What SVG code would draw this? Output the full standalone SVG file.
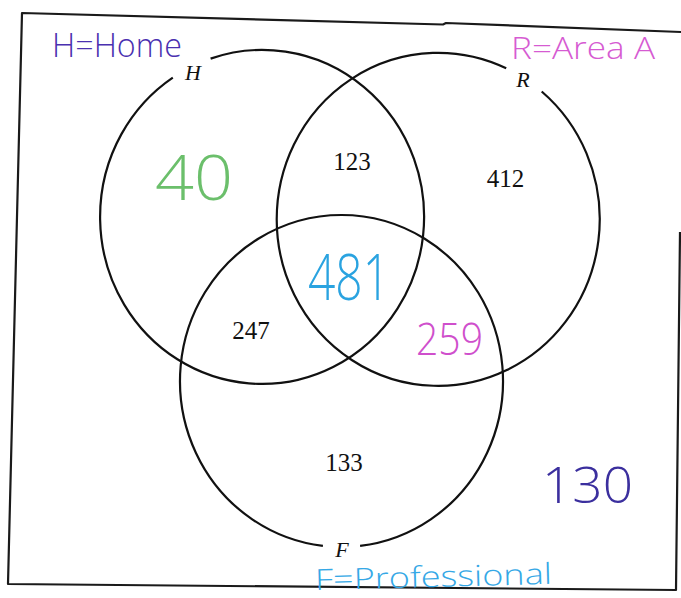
<svg xmlns="http://www.w3.org/2000/svg" width="681" height="598" viewBox="0 0 681 598">
<style>
.border{fill:none;stroke:#1a1a1a;stroke-width:2.2;stroke-linejoin:round}
.circ{fill:none;stroke:#111;stroke-width:2.2}
.lbl{font-family:"Liberation Serif",serif;font-style:italic;font-size:22px;fill:#111;text-anchor:middle}
.num{font-family:"Liberation Serif",serif;font-size:25px;fill:#111;text-anchor:middle}
.hw{font-family:"Open Sans","Liberation Sans",sans-serif;font-weight:300}
</style>
<rect width="681" height="598" fill="#fff"/>
<g id="frame">
<polyline class="border" points="681,32 446,23 443,24.5 22,13 8,584 676,590 680,232"/>
</g>
<g id="circle-H">
<path class="circ" d="M 210.6,58.6 A 162 167 0 1 1 172.8,77.6"/>
<text class="lbl" x="193" y="80">H</text>
</g>
<g id="circle-R">
<path class="circ" d="M 541.7,91.5 A 161.5 166.5 0 1 1 506.2,68.3"/>
<text class="lbl" x="523" y="87">R</text>
</g>
<g id="circle-F">
<path class="circ" d="M 322.9,545.9 A 161.5 166 0 1 1 360.1,545.9"/>
<text class="lbl" x="342" y="557">F</text>
</g>
<g id="regions">
<text class="num" x="352" y="170">123</text>
<text class="num" x="505.5" y="186.5">412</text>
<text class="num" x="251" y="339">247</text>
<text class="num" x="344" y="471">133</text>
</g>
<g id="handwriting">
<text class="hw" x="52" y="57" font-size="33" fill="#4a30b0" textLength="130" lengthAdjust="spacingAndGlyphs">H=Home</text>
<text class="hw" x="511" y="59" font-size="32" fill="#d65bd2" textLength="144" lengthAdjust="spacingAndGlyphs">R=Area A</text>
<text class="hw" x="315" y="587" font-size="29" fill="#35a8e6" textLength="237" lengthAdjust="spacingAndGlyphs" transform="rotate(-1.5 433 580)">F=Professional</text>
<text class="hw" x="155" y="200" font-size="62" fill="#6bbf6b" textLength="78" lengthAdjust="spacingAndGlyphs">40</text>
<text class="hw" x="308" y="300" font-size="64" fill="#2aa3e0" textLength="82" lengthAdjust="spacingAndGlyphs">481</text>
<text class="hw" x="416" y="355" font-size="44" fill="#cf4fcc" textLength="67" lengthAdjust="spacingAndGlyphs">259</text>
<text class="hw" x="542" y="503" font-size="50" fill="#3b2f9e" textLength="91" lengthAdjust="spacingAndGlyphs">130</text>
</g>
</svg>
